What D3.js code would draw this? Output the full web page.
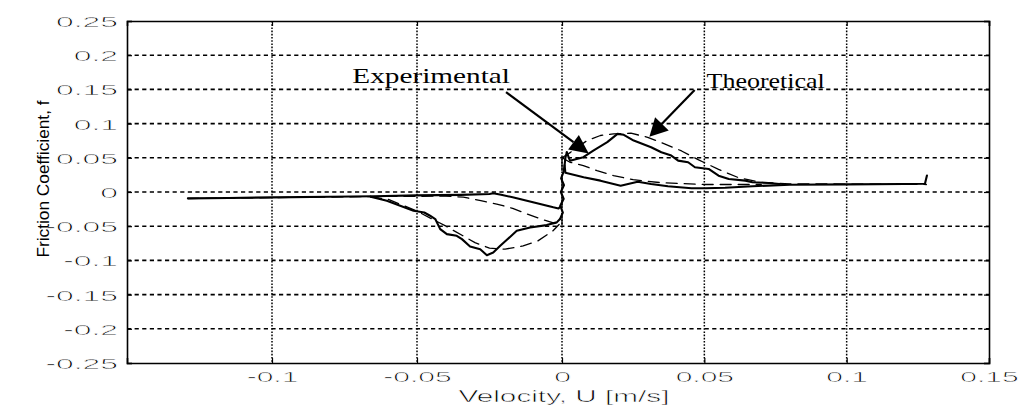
<!DOCTYPE html>
<html>
<head>
<meta charset="utf-8">
<script src="https://cdn.jsdelivr.net/npm/d3@7"></script>
<style>
  body { margin: 0; background: #fff; }
  svg { display: block; }
</style>
</head>
<body>
<svg id="chart" width="1021" height="406"></svg>
<script>
// Axis ticks
const xTicks = [-0.1, -0.05, 0, 0.05, 0.1, 0.15];
const xTickLabels = ["-0.1", "-0.05", "0", "0.05", "0.1", "0.15"];
const yTicks = [0.25, 0.2, 0.15, 0.1, 0.05, 0, -0.05, -0.1, -0.15, -0.2, -0.25];
const yTickLabels = ["0.25", "0.2", "0.15", "0.1", "0.05", "0", "-0.05", "-0.1", "-0.15", "-0.2", "-0.25"];
const xGrid = [-0.1, -0.05, 0, 0.05, 0.1];
const yGrid = [0.2, 0.15, 0.1, 0.05, 0, -0.05, -0.1, -0.15, -0.2];

// Experimental friction trace, [velocity, friction coefficient]
const expNegUpper = [[-0.129,-0.0093],[-0.115,-0.0088],[-0.1,-0.0078],[-0.08,-0.0070],[-0.065,-0.0062],
  [-0.05,-0.0050],[-0.035,-0.0042],[-0.025,-0.0030],[-0.0237,-0.0018],[-0.021,-0.0040],[-0.017,-0.0078],
  [-0.01,-0.0151],[-0.003,-0.0224],[-0.0012,-0.0240],[-0.0006,-0.0215]];
const expNegLower = [[-0.066,-0.0068],[-0.0604,-0.0128],[-0.0512,-0.0274],[-0.0475,-0.0300],[-0.0455,-0.0347],
  [-0.0437,-0.0396],[-0.0420,-0.0543],[-0.0397,-0.0616],[-0.0363,-0.0640],[-0.0345,-0.0689],[-0.0317,-0.0796],
  [-0.0282,-0.0836],[-0.0259,-0.0924],[-0.0237,-0.0884],[-0.0213,-0.0787],[-0.0190,-0.0699],[-0.0156,-0.0567],
  [-0.0110,-0.0518],[-0.0053,-0.0484],[-0.0018,-0.0444],[-0.0007,-0.0396]];
const expZero = [[-0.0007,-0.0396],[0.0003,-0.030],[-0.0006,-0.020],[0.0006,-0.010],[-0.0004,0.0],
  [0.0007,0.010],[-0.0003,0.020],[0.0006,0.030],[0.0009,0.039],[0.0012,0.050],[0.0017,0.058]];
const expPosUpper = [[0.0017,0.058],[0.0028,0.0458],[0.0075,0.0509],[0.0110,0.0606],[0.0159,0.0729],
  [0.0195,0.0850],[0.0217,0.0836],[0.0252,0.0752],[0.0313,0.0655],[0.0349,0.0582],[0.0384,0.0532],
  [0.0408,0.0459],[0.0443,0.0435],[0.0467,0.0362],[0.0515,0.0337],[0.0550,0.0239],[0.0586,0.0191],
  [0.0644,0.0166],[0.0669,0.0142],[0.0728,0.0132],[0.0764,0.0117]];
const expPosLower = [[0.0009,0.039],[0.0012,0.0280],[0.0076,0.0216],[0.0135,0.0166],[0.0206,0.0092],
  [0.0266,0.0151],[0.0313,0.0117],[0.0372,0.0084],[0.0455,0.0054],[0.0502,0.0054],[0.0573,0.0063],
  [0.0669,0.0084],[0.08,0.0105],[0.1,0.0112],[0.12,0.0117],[0.1275,0.0120],[0.1282,0.0240]];

// Theoretical model curve, [velocity, friction coefficient]
const theoNegUpper = [[-0.129,-0.0095],[-0.1,-0.0082],[-0.06,-0.0065],[-0.04,-0.0060],[-0.034,-0.0075],
  [-0.028,-0.0127],[-0.0225,-0.0176],[-0.017,-0.0239],[-0.012,-0.0323],[-0.0065,-0.0406],[-0.001,-0.0475]];
const theoNegLower = [[-0.066,-0.0070],[-0.06,-0.0105],[-0.05,-0.0280],[-0.04,-0.0500],[-0.03,-0.0740],
  [-0.025,-0.0820],[-0.0196,-0.0836],[-0.0134,-0.0787],[-0.0083,-0.0714],[-0.0031,-0.0567],[-0.001,-0.0475]];
const theoZero = [[0,-0.0475],[0,0.050]];
const theoPosUpper = [[0,0.050],[0.0030,0.0580],[0.0088,0.0752],[0.0135,0.0826],[0.0181,0.0850],
  [0.0242,0.0860],[0.0301,0.0800],[0.0360,0.0704],[0.0420,0.0600],[0.0480,0.0470],[0.0550,0.0330],
  [0.0620,0.0210],[0.0700,0.0140],[0.0800,0.0120],[0.1280,0.0110]];
const theoPosLower = [[0,0.050],[0.0028,0.0435],[0.0075,0.0386],[0.0123,0.0312],[0.0181,0.0239],
  [0.0250,0.0180],[0.0350,0.0135],[0.0500,0.0110],[0.0700,0.0110]];

// Annotation labels with arrows, in data units
const noteExp = {text: "Experimental", at: [-0.0723, 0.159], stretch: 1.33,
  from: [-0.0193, 0.146], to: [0.0094, 0.0563]};
const noteTheo = {text: "Theoretical", at: [0.0508, 0.152], stretch: 1.18,
  from: [0.0466, 0.149], to: [0.0307, 0.0808]};

const svg = d3.select("#chart");
const x = d3.scaleLinear().domain([-0.15, 0, 0.15]).range([127, 562, 989]);
const y = d3.scaleLinear().domain([-0.25, 0.25]).range([363, 21]);
const [x0, x1] = [x(-0.15), x(0.15)];
const [y0, y1] = [y(-0.25), y(0.25)];

// Grid: dotted verticals, dashed horizontals
svg.append("g").selectAll("line").data(xGrid).join("line")
  .attr("x1", d => x(d)).attr("x2", d => x(d)).attr("y1", y1).attr("y2", y0)
  .attr("stroke", "#000").attr("stroke-width", 1.5).attr("stroke-dasharray", "1.6,1.6");
svg.append("g").selectAll("line").data(yGrid).join("line")
  .attr("x1", x0).attr("x2", x1).attr("y1", d => y(d)).attr("y2", d => y(d))
  .attr("stroke", "#000").attr("stroke-width", 1.6).attr("stroke-dasharray", "4.2,3.4");

// Wide, thin-stroked sans labels: stretched glyphs with a white edge to keep strokes light
const tickFont = "'Liberation Sans', Arial, sans-serif";
function thin(sel) {
  return sel.attr("fill", "#000").attr("stroke", "#fff").attr("stroke-width", 0.55)
    .style("paint-order", "fill");
}

// Axes with inward ticks and a surrounding box
const xAxis = svg.append("g").attr("transform", `translate(0,${y0})`)
  .call(d3.axisBottom(x).tickValues(xTicks).tickSize(-5).tickFormat((d, i) => xTickLabels[i]));
xAxis.selectAll("text").attr("y", null).attr("dy", null)
  .attr("transform", "translate(0,19) scale(2.0,1)")
  .style("font", `15px ${tickFont}`).call(thin);
const yAxis = svg.append("g").attr("transform", `translate(${x0},0)`)
  .call(d3.axisLeft(y).tickValues(yTicks).tickSize(-5).tickFormat((d, i) => yTickLabels[i]));
yAxis.selectAll("text").attr("x", null).attr("dy", null)
  .attr("transform", "translate(-9,5.4) scale(2.12,1)")
  .style("font", `15px ${tickFont}`).call(thin);
svg.append("g").attr("transform", `translate(0,${y1})`)
  .call(d3.axisTop(x).tickValues(xTicks).tickSize(-5).tickFormat(""));
svg.append("g").attr("transform", `translate(${x1},0)`)
  .call(d3.axisRight(y).tickValues(yTicks).tickSize(-5).tickFormat(""));
svg.selectAll(".domain").attr("stroke", "#000").attr("stroke-width", 1.6);
svg.selectAll(".tick line").attr("stroke", "#000").attr("stroke-width", 1.2);

// Axis titles
svg.append("text")
  .attr("transform", `translate(${(x0 + x1) / 2 + 6},402) scale(1.75,1)`)
  .attr("text-anchor", "middle").style("font", `17px ${tickFont}`)
  .text("Velocity, U [m/s]").call(thin);
svg.append("text")
  .attr("transform", `translate(49,${(y0 + y1) / 2 - 13}) rotate(-90) scale(1.08,1)`)
  .attr("text-anchor", "middle").style("font", `16px ${tickFont}`)
  .text("Friction Coefficient, f");

// Curves
const line = d3.line().x(d => x(d[0])).y(d => y(d[1]));
const plot = svg.append("g").attr("fill", "none").attr("stroke", "#000")
  .attr("stroke-linejoin", "round").attr("stroke-linecap", "round");
[theoNegUpper, theoNegLower, theoZero, theoPosUpper, theoPosLower].forEach(s =>
  plot.append("path").attr("d", line(s)).attr("stroke-width", 1.3).attr("stroke-dasharray", "11,7"));
[expNegUpper, expNegLower, expZero, expPosUpper, expPosLower].forEach(s =>
  plot.append("path").attr("d", line(s)).attr("stroke-width", 2.1));

// Annotations with arrows
function note(n, headLen, headHalf) {
  const [fx, fy] = [x(n.from[0]), y(n.from[1])];
  const [tx, ty] = [x(n.to[0]), y(n.to[1])];
  const len = Math.hypot(tx - fx, ty - fy);
  const ux = (tx - fx) / len, uy = (ty - fy) / len;
  const bx = tx - ux * headLen, by = ty - uy * headLen;
  svg.append("line").attr("x1", fx).attr("y1", fy).attr("x2", bx).attr("y2", by)
    .attr("stroke", "#000").attr("stroke-width", 2.2);
  svg.append("path")
    .attr("d", `M${tx},${ty}L${bx - uy * headHalf},${by + ux * headHalf}L${bx + uy * headHalf},${by - ux * headHalf}Z`)
    .attr("fill", "#000");
  svg.append("text")
    .attr("transform", `translate(${x(n.at[0])},${y(n.at[1])}) scale(${n.stretch},1)`)
    .style("font", "22px 'Liberation Serif', 'Times New Roman', serif")
    .text(n.text);
}
note(noteExp, 19, 9);
note(noteTheo, 18, 9.5);
</script>
</body>
</html>
